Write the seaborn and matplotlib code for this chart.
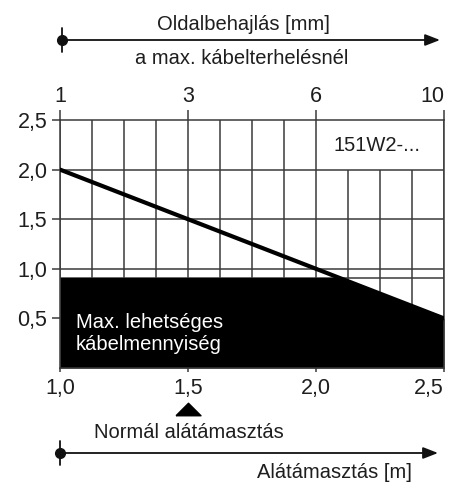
import numpy as np
import matplotlib
matplotlib.use("Agg")
import matplotlib.pyplot as plt
from matplotlib.patches import Rectangle
import seaborn as sns

# Support span [m] and the permitted cable load on the curve
span = [1.0, 1.5, 2.0, 2.5]
load = [2.0, 1.5, 1.0, 0.5]
# Lateral deflection [mm] at maximum cable load, per span
deflection_labels = ["1", "3", "6", "10"]
# Maximum possible cable quantity (level of the filled region)
max_cable = 0.91
y_ticks = [0.5, 1.0, 1.5, 2.0, 2.5]
y_tick_labels = ["0,5", "1,0", "1,5", "2,0", "2,5"]
x_tick_labels = ["1,0", "1,5", "2,0", "2,5"]
normal_span = 1.5
product_label = "151W2-..."

sns.set_style("white")
plt.rcParams["font.family"] = ["Liberation Sans", "DejaVu Sans"]
TXT = "#1e1e1e"
LBL = 14.5

W, H = 456, 484
fig = plt.figure(figsize=(W / 100, H / 100), dpi=100)
ax = fig.add_axes([60 / W, 116 / H, 384 / W, 248 / H])

grid_c = "#3a3a3a"
grid_lw = 1.1

ax.set_xlim(1.0, 2.5)
ax.set_ylim(0.0, 2.5)

# grid: every 0.125 m vertically, the label box in the top right kept free
xs = np.arange(1.0, 2.5 + 1e-9, 0.125)
full = xs[(xs <= 2.0 + 1e-9) | (xs >= 2.5 - 1e-9)]
part = xs[(xs > 2.0 + 1e-9) & (xs < 2.5 - 1e-9)]
ax.vlines(full, 0, 2.5, color=grid_c, lw=grid_lw, zorder=1)
ax.vlines(part, 0, 2.0, color=grid_c, lw=grid_lw, zorder=1)
ax.hlines([1.0, 1.5, 2.0, max_cable], 1.0, 2.5, color=grid_c, lw=grid_lw, zorder=1)

# filled region: below the load line, capped at the maximum cable quantity
poly = ax.fill_between(span, 0, load, color="black", lw=0, zorder=2)
poly.set_clip_path(Rectangle((1.0, 0.0), 1.5, max_cable, transform=ax.transData))

sns.lineplot(x=span, y=load, ax=ax, color="black", linewidth=3.0, zorder=3)

for s in ax.spines.values():
    s.set_color(grid_c)
    s.set_linewidth(grid_lw)

ax.set_yticks(y_ticks)
ax.set_yticklabels(y_tick_labels)
ax.set_xticks(span)
ax.set_xticklabels(x_tick_labels)
ax.tick_params(axis="y", direction="out", length=6, width=grid_lw, color=grid_c,
               pad=3, labelsize=15.5, labelcolor=TXT, left=True)
ax.tick_params(axis="x", direction="out", length=3, width=grid_lw, color=grid_c,
               pad=4, labelsize=15.5, labelcolor=TXT, bottom=True)
ax.get_xticklabels()[-1].set_ha("right")
ax.set_xlabel("")
ax.set_ylabel("")

top = ax.secondary_xaxis("top")
top.set_xticks(span)
top.set_xticklabels(deflection_labels)
top.tick_params(axis="x", direction="out", length=7, width=grid_lw, color=grid_c,
                pad=2, labelsize=15.5, labelcolor=TXT)
top.spines["top"].set_visible(False)
top.get_xticklabels()[-1].set_ha("right")

ax.text(2.07, 2.24, product_label, fontsize=LBL, color=TXT,
        ha="left", va="center", zorder=4)
ax.text(1.0625, 0.455, "Max. lehetséges", fontsize=LBL, color="white",
        ha="left", va="center", zorder=4)
ax.text(1.0625, 0.235, "kábelmennyiség", fontsize=LBL, color="white",
        ha="left", va="center", zorder=4)

# marker for the normal support span
tri = [(-1.0, -0.5), (1.0, -0.5), (0.0, 0.5), (-1.0, -0.5)]
ax.plot([normal_span], [-0.415], marker=tri, markersize=18, color="black",
        linestyle="none", clip_on=False)


def fy(y_px):
    return H - y_px


def arrow(y_px, x0, x1):
    ax.annotate("", xy=(x1, fy(y_px)), xytext=(x0, fy(y_px)),
                xycoords="figure pixels", textcoords="figure pixels",
                arrowprops=dict(arrowstyle="-|>,head_length=0.9,head_width=0.35",
                                color="#111111", lw=1.3, shrinkA=0, shrinkB=0))
    fig.add_artist(plt.Line2D([x0 / W, x0 / W], [fy(y_px - 12) / H, fy(y_px + 12) / H],
                              transform=fig.transFigure, color="#111111", lw=1.3))
    fig.add_artist(plt.Line2D([x0 / W], [fy(y_px) / H], transform=fig.transFigure,
                              marker="o", markersize=7, color="#111111"))


arrow(40, 62, 440)
arrow(453, 60, 438)

fig.text(243 / W, fy(25) / H, "Oldalbehajlás [mm]", fontsize=LBL,
         color=TXT, ha="center", va="center")
fig.text(242 / W, fy(58) / H, "a max. kábelterhelésnél", fontsize=LBL,
         color=TXT, ha="center", va="center")
fig.text(189 / W, fy(432) / H, "Normál alátámasztás", fontsize=LBL,
         color=TXT, ha="center", va="center")
fig.text(334 / W, fy(472) / H, "Alátámasztás [m]", fontsize=LBL,
         color=TXT, ha="center", va="center")

fig.savefig("out.png", dpi=100, facecolor="white")
